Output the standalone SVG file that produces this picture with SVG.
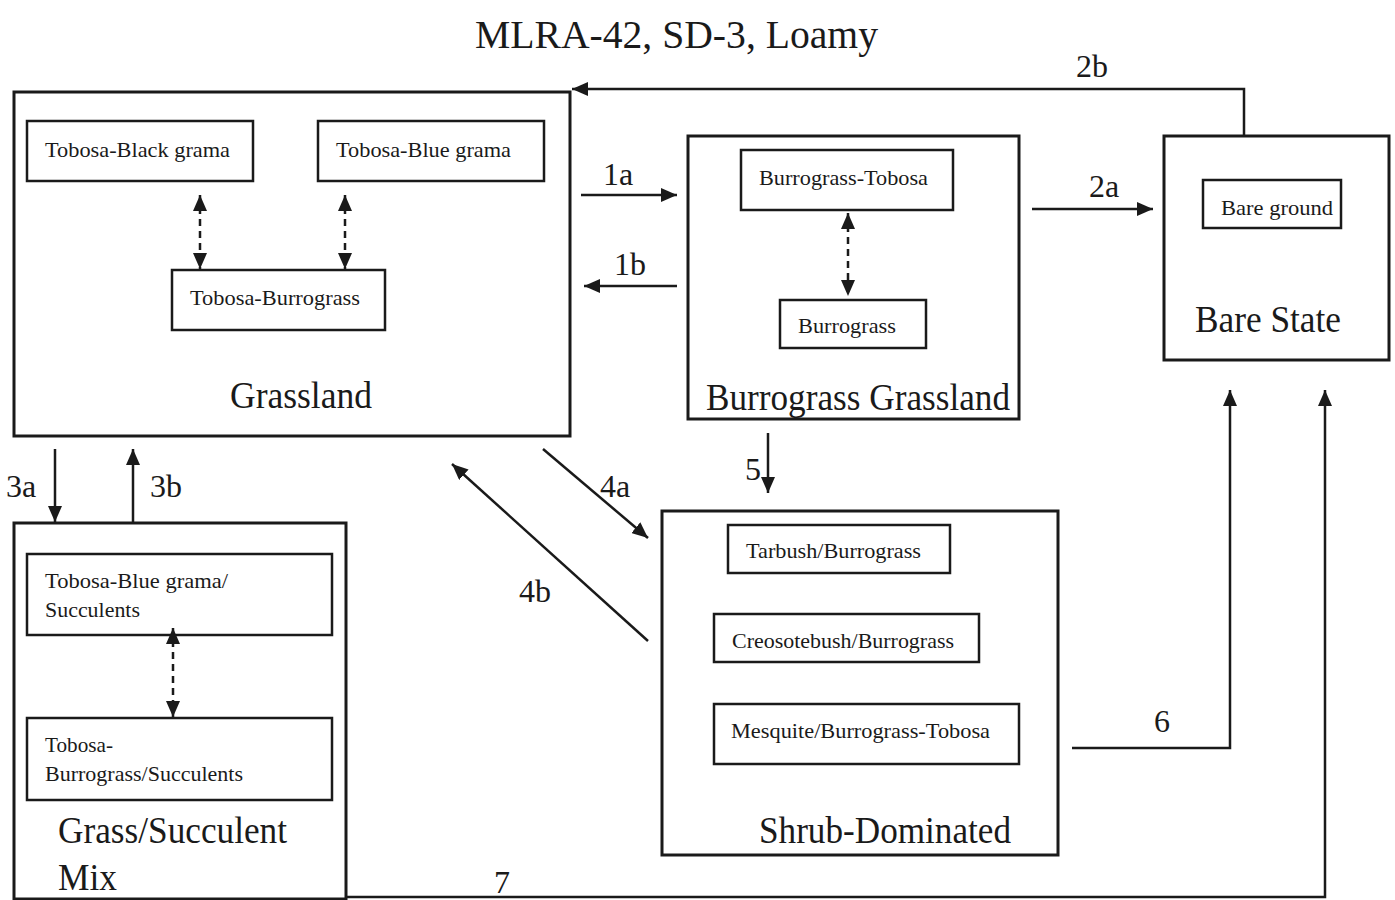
<svg xmlns="http://www.w3.org/2000/svg" width="1395" height="900" viewBox="0 0 1395 900">
<style>
text{font-family:"Liberation Serif","Times New Roman",serif;fill:#1a1a1a}
.t{font-size:40px}
.s{font-size:22px}
.b{font-size:38px}
.l{font-size:32px}
.state{fill:#fff;stroke:#1a1a1a;stroke-width:3}
.sub{fill:#fff;stroke:#1a1a1a;stroke-width:2.5}
.c{fill:none;stroke:#1a1a1a;stroke-width:2.5}
.d{fill:none;stroke:#1a1a1a;stroke-width:2.5;stroke-dasharray:7 5}
</style>
<defs>
<marker id="ah" viewBox="0 0 10 10" refX="10" refY="5" markerWidth="16" markerHeight="14" markerUnits="userSpaceOnUse" orient="auto-start-reverse" preserveAspectRatio="none"><path d="M0,0L10,5L0,10z" fill="#1a1a1a"/></marker>
<marker id="ahb" viewBox="0 0 10 10" refX="10" refY="5" markerWidth="16" markerHeight="14" markerUnits="userSpaceOnUse" orient="auto-start-reverse" preserveAspectRatio="none"><path d="M0,0L10,5L0,10z" fill="#1a1a1a"/></marker>
</defs>
<rect width="1395" height="900" fill="#fff"/>
<text class="t" x="475" y="48" textLength="403" lengthAdjust="spacingAndGlyphs">MLRA-42, SD-3, Loamy</text>

<g id="grassland">
<rect class="state" x="14" y="92" width="556" height="344"/>
<rect class="sub" x="27" y="121" width="226" height="60"/>
<text class="s" x="45" y="157" textLength="185" lengthAdjust="spacingAndGlyphs">Tobosa-Black grama</text>
<rect class="sub" x="318" y="121" width="226" height="60"/>
<text class="s" x="336" y="157" textLength="175" lengthAdjust="spacingAndGlyphs">Tobosa-Blue grama</text>
<rect class="sub" x="172" y="270" width="213" height="60"/>
<text class="s" x="190" y="305" textLength="170" lengthAdjust="spacingAndGlyphs">Tobosa-Burrograss</text>
<text class="b" x="230" y="408" textLength="142" lengthAdjust="spacingAndGlyphs">Grassland</text>
</g>

<g id="burrograss-grassland">
<rect class="state" x="688" y="136" width="331" height="283"/>
<rect class="sub" x="741" y="150" width="212" height="60"/>
<text class="s" x="759" y="185" textLength="169" lengthAdjust="spacingAndGlyphs">Burrograss-Tobosa</text>
<rect class="sub" x="780" y="300" width="146" height="48"/>
<text class="s" x="798" y="333" textLength="98" lengthAdjust="spacingAndGlyphs">Burrograss</text>
<text class="b" x="706" y="410" textLength="304" lengthAdjust="spacingAndGlyphs">Burrograss Grassland</text>
</g>

<g id="bare-state">
<rect class="state" x="1164" y="136" width="225" height="224"/>
<rect class="sub" x="1203" y="180" width="138" height="48"/>
<text class="s" x="1221" y="215" textLength="112" lengthAdjust="spacingAndGlyphs">Bare ground</text>
<text class="b" x="1195" y="332" textLength="146" lengthAdjust="spacingAndGlyphs">Bare State</text>
</g>

<g id="grass-succulent-mix">
<rect class="state" x="14" y="523" width="332" height="376"/>
<rect class="sub" x="27" y="554" width="305" height="81"/>
<text class="s" x="45" y="588" textLength="183" lengthAdjust="spacingAndGlyphs">Tobosa-Blue grama/</text>
<text class="s" x="45" y="617" textLength="95" lengthAdjust="spacingAndGlyphs">Succulents</text>
<rect class="sub" x="27" y="718" width="305" height="82"/>
<text class="s" x="45" y="752" textLength="68" lengthAdjust="spacingAndGlyphs">Tobosa-</text>
<text class="s" x="45" y="781" textLength="198" lengthAdjust="spacingAndGlyphs">Burrograss/Succulents</text>
<text class="b" x="58" y="843" textLength="229" lengthAdjust="spacingAndGlyphs">Grass/Succulent</text>
<text class="b" x="58" y="890" textLength="59" lengthAdjust="spacingAndGlyphs">Mix</text>
</g>

<g id="shrub-dominated">
<rect class="state" x="662" y="511" width="396" height="344"/>
<rect class="sub" x="728" y="525" width="222" height="48"/>
<text class="s" x="746" y="558" textLength="175" lengthAdjust="spacingAndGlyphs">Tarbush/Burrograss</text>
<rect class="sub" x="714" y="614" width="265" height="48"/>
<text class="s" x="732" y="648" textLength="222" lengthAdjust="spacingAndGlyphs">Creosotebush/Burrograss</text>
<rect class="sub" x="714" y="704" width="305" height="60"/>
<text class="s" x="731" y="738" textLength="259" lengthAdjust="spacingAndGlyphs">Mesquite/Burrograss-Tobosa</text>
<text class="b" x="759" y="843" textLength="252" lengthAdjust="spacingAndGlyphs">Shrub-Dominated</text>
</g>

<g id="connectors">
<line class="d" x1="200" y1="195" x2="200" y2="269" marker-start="url(#ahb)" marker-end="url(#ahb)"/>
<line class="d" x1="345" y1="195" x2="345" y2="269" marker-start="url(#ahb)" marker-end="url(#ahb)"/>
<line class="d" x1="848" y1="213" x2="848" y2="296" marker-start="url(#ahb)" marker-end="url(#ahb)"/>
<line class="d" x1="173" y1="628" x2="173" y2="717" marker-start="url(#ahb)" marker-end="url(#ahb)"/>
<line class="c" x1="581" y1="195" x2="677" y2="195" marker-end="url(#ah)"/>
<line class="c" x1="677" y1="286" x2="584" y2="286" marker-end="url(#ah)"/>
<line class="c" x1="1032" y1="209" x2="1153" y2="209" marker-end="url(#ah)"/>
<polyline class="c" points="1244,136 1244,89 572,89" marker-end="url(#ah)" stroke="#444"/>
<line class="c" x1="55" y1="449" x2="55" y2="522" marker-end="url(#ah)"/>
<line class="c" x1="133" y1="522" x2="133" y2="449" marker-end="url(#ah)"/>
<line class="c" x1="543" y1="449" x2="648" y2="538" marker-end="url(#ah)"/>
<line class="c" x1="648" y1="641" x2="452" y2="464" marker-end="url(#ah)"/>
<line class="c" x1="768" y1="433" x2="768" y2="493" marker-end="url(#ah)"/>
<polyline class="c" points="1072,748 1230,748 1230,390" marker-end="url(#ah)"/>
<polyline class="c" points="346,897 1325,897 1325,390" marker-end="url(#ah)"/>
<text class="l" x="603" y="185">1a</text>
<text class="l" x="614" y="275">1b</text>
<text class="l" x="1089" y="197">2a</text>
<text class="l" x="1076" y="77">2b</text>
<text class="l" x="6" y="497">3a</text>
<text class="l" x="150" y="497">3b</text>
<text class="l" x="600" y="497">4a</text>
<text class="l" x="519" y="602">4b</text>
<text class="l" x="745" y="480">5</text>
<text class="l" x="1154" y="732">6</text>
<text class="l" x="494" y="893">7</text>
</g>
</svg>
